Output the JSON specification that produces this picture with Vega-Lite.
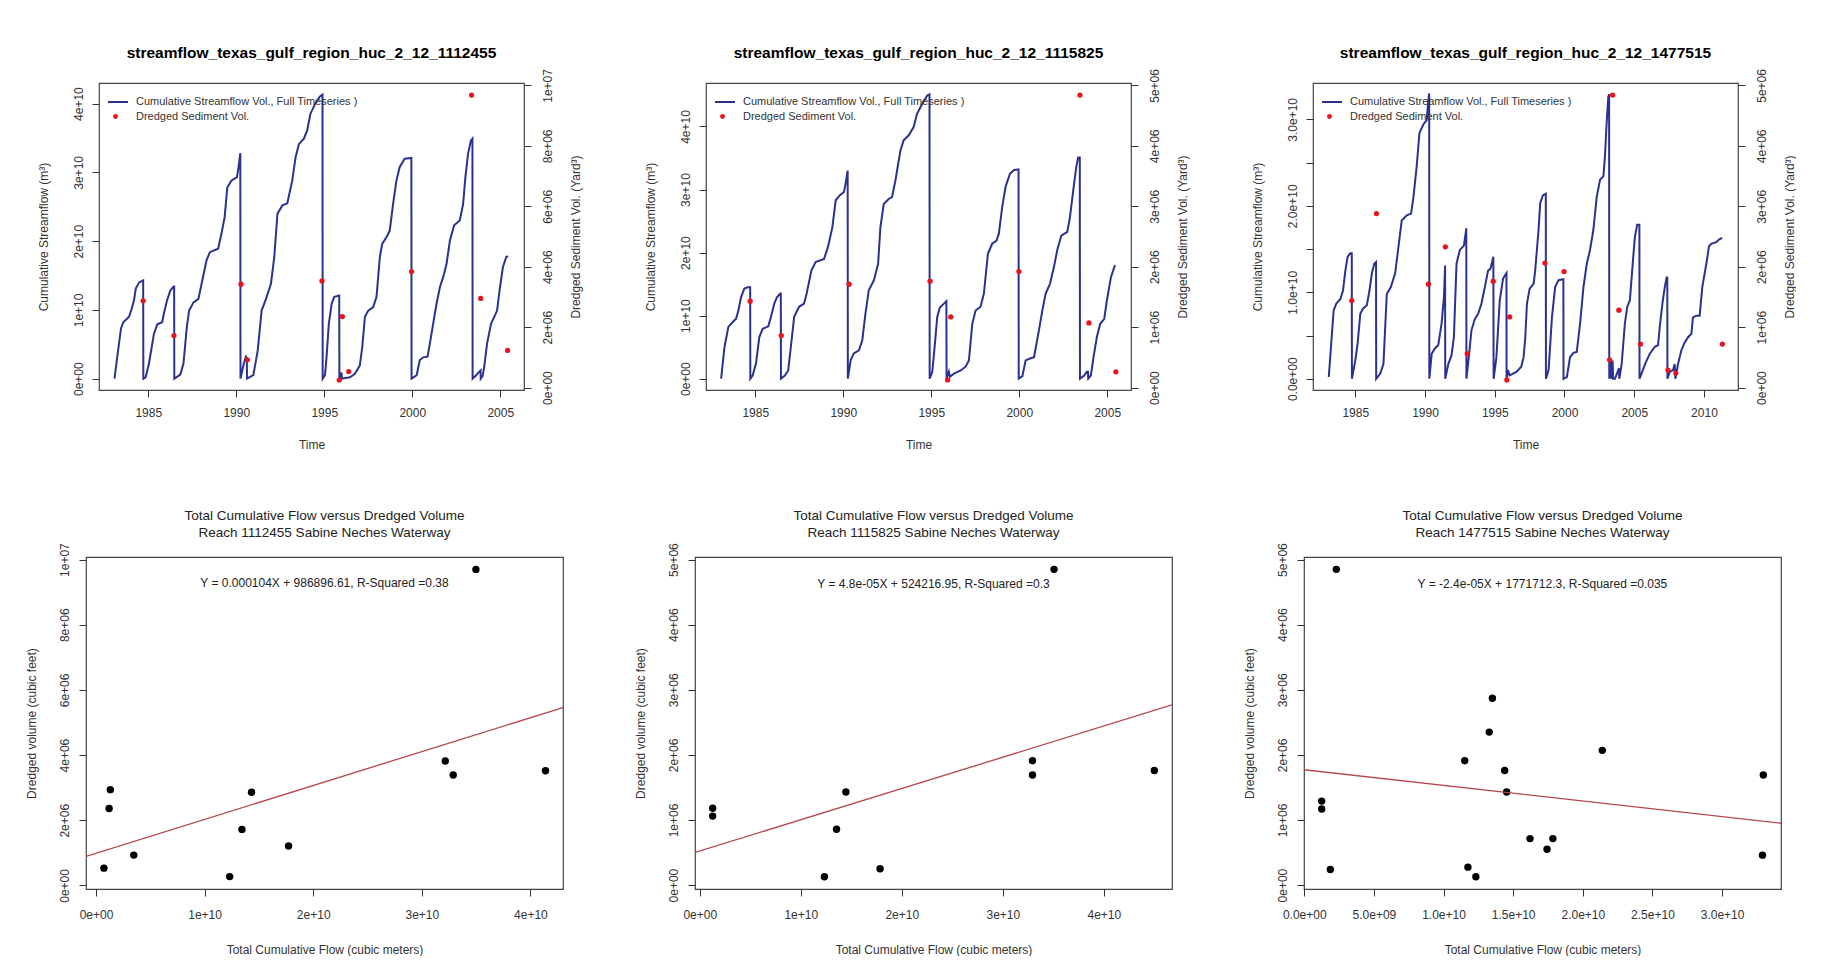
{
"$schema": "https://vega.github.io/schema/vega-lite/v6.json",
"padding": {"left": 24, "top": 45, "right": 0, "bottom": 0},
"background": "#ffffff",
"bounds": "flush",
"spacing": 474,
"resolve": {"scale": {"stroke": "independent", "fill": "independent"}, "legend": {"stroke": "independent", "fill": "independent"}},
"datasets": {
"flow1": [
{"t":1983.08,"v":0},{"t":1983.26,"v":0.36e10},{"t":1983.45,"v":0.73e10},{"t":1983.58,"v":0.82e10},{"t":1983.91,"v":0.90e10},{"t":1984.06,"v":1.02e10},{"t":1984.19,"v":1.14e10},{"t":1984.29,"v":1.31e10},{"t":1984.48,"v":1.40e10},{"t":1984.71,"v":1.43e10},{"t":1984.72,"v":0},
{"t":1984.85,"v":0.02e10},{"t":1985.04,"v":0.22e10},{"t":1985.32,"v":0.65e10},{"t":1985.51,"v":0.79e10},{"t":1985.79,"v":0.82e10},{"t":1985.88,"v":0.94e10},{"t":1986.07,"v":1.14e10},{"t":1986.25,"v":1.28e10},{"t":1986.44,"v":1.34e10},{"t":1986.47,"v":1.34e10},{"t":1986.48,"v":0},
{"t":1986.82,"v":0.06e10},{"t":1987.00,"v":0.22e10},{"t":1987.19,"v":0.75e10},{"t":1987.32,"v":0.99e10},{"t":1987.57,"v":1.11e10},{"t":1987.85,"v":1.16e10},{"t":1988.03,"v":1.38e10},{"t":1988.31,"v":1.72e10},{"t":1988.50,"v":1.84e10},{"t":1988.97,"v":1.89e10},{"t":1989.16,"v":2.11e10},{"t":1989.34,"v":2.35e10},{"t":1989.49,"v":2.78e10},{"t":1989.72,"v":2.88e10},{"t":1990.04,"v":2.93e10},{"t":1990.13,"v":3.08e10},{"t":1990.23,"v":3.28e10},{"t":1990.24,"v":0},
{"t":1990.43,"v":0.22e10},{"t":1990.55,"v":0.32e10},{"t":1990.60,"v":0.30e10},{"t":1990.61,"v":0},
{"t":1990.97,"v":0.05e10},{"t":1991.22,"v":0.41e10},{"t":1991.44,"v":0.99e10},{"t":1991.69,"v":1.16e10},{"t":1991.97,"v":1.38e10},{"t":1992.16,"v":1.77e10},{"t":1992.34,"v":2.40e10},{"t":1992.62,"v":2.52e10},{"t":1992.90,"v":2.55e10},{"t":1993.18,"v":2.88e10},{"t":1993.37,"v":3.22e10},{"t":1993.56,"v":3.41e10},{"t":1993.84,"v":3.49e10},{"t":1994.03,"v":3.61e10},{"t":1994.21,"v":3.85e10},{"t":1994.49,"v":4.00e10},{"t":1994.74,"v":4.10e10},{"t":1994.90,"v":4.13e10},{"t":1994.91,"v":0},
{"t":1995.04,"v":0.05e10},{"t":1995.13,"v":0.31e10},{"t":1995.26,"v":0.80e10},{"t":1995.42,"v":1.09e10},{"t":1995.57,"v":1.19e10},{"t":1995.85,"v":1.21e10},{"t":1995.86,"v":0},
{"t":1995.98,"v":0.09e10},{"t":1996.00,"v":0},{"t":1996.46,"v":0.02e10},{"t":1996.74,"v":0.07e10},{"t":1997.02,"v":0.19e10},{"t":1997.16,"v":0.46e10},{"t":1997.31,"v":0.90e10},{"t":1997.50,"v":0.99e10},{"t":1997.78,"v":1.04e10},{"t":1997.97,"v":1.19e10},{"t":1998.16,"v":1.77e10},{"t":1998.29,"v":1.96e10},{"t":1998.54,"v":2.06e10},{"t":1998.72,"v":2.15e10},{"t":1998.91,"v":2.54e10},{"t":1999.10,"v":2.88e10},{"t":1999.29,"v":3.08e10},{"t":1999.57,"v":3.20e10},{"t":1999.95,"v":3.21e10},{"t":1999.96,"v":0},
{"t":2000.25,"v":0.05e10},{"t":2000.43,"v":0.27e10},{"t":2000.62,"v":0.31e10},{"t":2000.87,"v":0.32e10},{"t":2001.00,"v":0.51e10},{"t":2001.19,"v":0.80e10},{"t":2001.38,"v":1.09e10},{"t":2001.57,"v":1.33e10},{"t":2001.76,"v":1.48e10},{"t":2001.95,"v":1.67e10},{"t":2002.14,"v":2.01e10},{"t":2002.38,"v":2.23e10},{"t":2002.70,"v":2.30e10},{"t":2002.89,"v":2.54e10},{"t":2003.02,"v":2.93e10},{"t":2003.17,"v":3.27e10},{"t":2003.33,"v":3.46e10},{"t":2003.42,"v":3.49e10},{"t":2003.43,"v":0},
{"t":2003.63,"v":0.05e10},{"t":2003.84,"v":0.11e10},{"t":2003.88,"v":0.12e10},{"t":2003.89,"v":0},{"t":2004.00,"v":0.04e10},{"t":2004.10,"v":0.19e10},{"t":2004.25,"v":0.51e10},{"t":2004.48,"v":0.80e10},{"t":2004.70,"v":0.92e10},{"t":2004.82,"v":0.99e10},{"t":2004.96,"v":1.28e10},{"t":2005.15,"v":1.62e10},{"t":2005.34,"v":1.77e10},{"t":2005.45,"v":1.78e10}
],
"flow2": [
{"t":1983.06,"v":0},{"t":1983.25,"v":0.50e10},{"t":1983.47,"v":0.82e10},{"t":1983.72,"v":0.90e10},{"t":1983.91,"v":0.95e10},{"t":1984.04,"v":1.08e10},{"t":1984.19,"v":1.29e10},{"t":1984.38,"v":1.43e10},{"t":1984.57,"v":1.45e10},{"t":1984.71,"v":1.45e10},{"t":1984.72,"v":0},
{"t":1984.85,"v":0.05e10},{"t":1985.04,"v":0.24e10},{"t":1985.23,"v":0.66e10},{"t":1985.42,"v":0.79e10},{"t":1985.74,"v":0.83e10},{"t":1985.89,"v":0.98e10},{"t":1986.08,"v":1.19e10},{"t":1986.23,"v":1.29e10},{"t":1986.42,"v":1.35e10},{"t":1986.45,"v":1.35e10},{"t":1986.46,"v":0},
{"t":1986.68,"v":0.05e10},{"t":1986.87,"v":0.13e10},{"t":1987.02,"v":0.50e10},{"t":1987.21,"v":0.98e10},{"t":1987.49,"v":1.14e10},{"t":1987.77,"v":1.19e10},{"t":1987.92,"v":1.35e10},{"t":1988.19,"v":1.72e10},{"t":1988.43,"v":1.85e10},{"t":1988.91,"v":1.90e10},{"t":1989.13,"v":2.09e10},{"t":1989.38,"v":2.40e10},{"t":1989.57,"v":2.83e10},{"t":1989.81,"v":2.91e10},{"t":1990.04,"v":2.96e10},{"t":1990.13,"v":3.09e10},{"t":1990.25,"v":3.30e10},{"t":1990.26,"v":0},
{"t":1990.42,"v":0.29e10},{"t":1990.60,"v":0.40e10},{"t":1990.89,"v":0.45e10},{"t":1991.08,"v":0.61e10},{"t":1991.26,"v":1.03e10},{"t":1991.45,"v":1.40e10},{"t":1991.74,"v":1.56e10},{"t":1991.98,"v":1.82e10},{"t":1992.11,"v":2.40e10},{"t":1992.30,"v":2.77e10},{"t":1992.58,"v":2.85e10},{"t":1992.77,"v":2.88e10},{"t":1992.96,"v":3.14e10},{"t":1993.25,"v":3.62e10},{"t":1993.43,"v":3.78e10},{"t":1993.72,"v":3.86e10},{"t":1994.00,"v":3.99e10},{"t":1994.19,"v":4.20e10},{"t":1994.45,"v":4.34e10},{"t":1994.77,"v":4.49e10},{"t":1994.90,"v":4.51e10},{"t":1994.91,"v":0},
{"t":1995.06,"v":0.11e10},{"t":1995.19,"v":0.50e10},{"t":1995.34,"v":0.98e10},{"t":1995.49,"v":1.13e10},{"t":1995.72,"v":1.19e10},{"t":1995.86,"v":1.23e10},{"t":1995.87,"v":0},
{"t":1996.00,"v":0.11e10},{"t":1996.06,"v":0.03e10},{"t":1996.29,"v":0.08e10},{"t":1996.67,"v":0.13e10},{"t":1996.95,"v":0.19e10},{"t":1997.14,"v":0.29e10},{"t":1997.33,"v":0.87e10},{"t":1997.52,"v":1.08e10},{"t":1997.80,"v":1.14e10},{"t":1997.99,"v":1.35e10},{"t":1998.22,"v":1.98e10},{"t":1998.46,"v":2.14e10},{"t":1998.71,"v":2.19e10},{"t":1998.84,"v":2.30e10},{"t":1999.03,"v":2.72e10},{"t":1999.22,"v":3.04e10},{"t":1999.47,"v":3.25e10},{"t":1999.70,"v":3.31e10},{"t":1999.96,"v":3.32e10},{"t":1999.97,"v":0},
{"t":2000.18,"v":0.04e10},{"t":2000.36,"v":0.29e10},{"t":2000.61,"v":0.32e10},{"t":2000.84,"v":0.34e10},{"t":2001.12,"v":0.77e10},{"t":2001.31,"v":1.08e10},{"t":2001.50,"v":1.35e10},{"t":2001.74,"v":1.50e10},{"t":2001.97,"v":1.77e10},{"t":2002.16,"v":2.04e10},{"t":2002.39,"v":2.27e10},{"t":2002.73,"v":2.33e10},{"t":2002.88,"v":2.56e10},{"t":2003.07,"v":2.99e10},{"t":2003.24,"v":3.36e10},{"t":2003.35,"v":3.51e10},{"t":2003.44,"v":3.51e10},{"t":2003.45,"v":0},
{"t":2003.69,"v":0.05e10},{"t":2003.84,"v":0.11e10},{"t":2003.91,"v":0.11e10},{"t":2003.92,"v":0},{"t":2004.07,"v":0.05e10},{"t":2004.22,"v":0.34e10},{"t":2004.41,"v":0.66e10},{"t":2004.60,"v":0.87e10},{"t":2004.83,"v":0.95e10},{"t":2004.98,"v":1.24e10},{"t":2005.21,"v":1.61e10},{"t":2005.44,"v":1.80e10}
],
"flow3": [
{"t":1983.10,"v":0.02e10},{"t":1983.26,"v":0.37e10},{"t":1983.45,"v":0.79e10},{"t":1983.64,"v":0.87e10},{"t":1983.93,"v":0.92e10},{"t":1984.12,"v":1.02e10},{"t":1984.29,"v":1.25e10},{"t":1984.45,"v":1.41e10},{"t":1984.64,"v":1.45e10},{"t":1984.75,"v":1.45e10},{"t":1984.76,"v":0},
{"t":1985.00,"v":0.21e10},{"t":1985.17,"v":0.41e10},{"t":1985.36,"v":0.75e10},{"t":1985.55,"v":0.81e10},{"t":1985.83,"v":0.85e10},{"t":1986.02,"v":1.02e10},{"t":1986.19,"v":1.22e10},{"t":1986.36,"v":1.33e10},{"t":1986.49,"v":1.35e10},{"t":1986.50,"v":0},
{"t":1986.79,"v":0.06e10},{"t":1987.02,"v":0.17e10},{"t":1987.26,"v":0.98e10},{"t":1987.55,"v":1.06e10},{"t":1987.86,"v":1.22e10},{"t":1988.10,"v":1.53e10},{"t":1988.33,"v":1.83e10},{"t":1988.69,"v":1.89e10},{"t":1989.00,"v":1.91e10},{"t":1989.17,"v":2.10e10},{"t":1989.40,"v":2.45e10},{"t":1989.60,"v":2.84e10},{"t":1989.88,"v":2.94e10},{"t":1990.12,"v":2.99e10},{"t":1990.24,"v":3.22e10},{"t":1990.30,"v":3.30e10},{"t":1990.31,"v":0},
{"t":1990.48,"v":0.29e10},{"t":1990.71,"v":0.35e10},{"t":1990.95,"v":0.39e10},{"t":1991.19,"v":0.64e10},{"t":1991.36,"v":0.95e10},{"t":1991.44,"v":1.31e10},{"t":1991.45,"v":0},
{"t":1991.67,"v":0.17e10},{"t":1991.90,"v":0.27e10},{"t":1992.07,"v":0.48e10},{"t":1992.26,"v":1.33e10},{"t":1992.50,"v":1.49e10},{"t":1992.79,"v":1.54e10},{"t":1992.96,"v":1.74e10},{"t":1992.97,"v":0},
{"t":1993.14,"v":0.25e10},{"t":1993.33,"v":0.56e10},{"t":1993.57,"v":0.69e10},{"t":1993.81,"v":0.75e10},{"t":1994.05,"v":0.87e10},{"t":1994.29,"v":1.06e10},{"t":1994.52,"v":1.25e10},{"t":1994.69,"v":1.27e10},{"t":1994.90,"v":1.41e10},{"t":1994.92,"v":0},
{"t":1995.12,"v":0.25e10},{"t":1995.36,"v":0.91e10},{"t":1995.60,"v":1.16e10},{"t":1995.84,"v":1.22e10},{"t":1995.85,"v":0},
{"t":1995.95,"v":0.10e10},{"t":1996.07,"v":0.04e10},{"t":1996.55,"v":0.08e10},{"t":1996.90,"v":0.14e10},{"t":1997.07,"v":0.25e10},{"t":1997.19,"v":0.48e10},{"t":1997.31,"v":0.87e10},{"t":1997.50,"v":1.04e10},{"t":1997.79,"v":1.10e10},{"t":1997.90,"v":1.25e10},{"t":1998.14,"v":1.72e10},{"t":1998.26,"v":2.03e10},{"t":1998.45,"v":2.12e10},{"t":1998.66,"v":2.14e10},{"t":1998.67,"v":0},
{"t":1998.86,"v":0.10e10},{"t":1999.10,"v":0.71e10},{"t":1999.33,"v":1.06e10},{"t":1999.57,"v":1.14e10},{"t":1999.92,"v":1.15e10},{"t":1999.93,"v":0},
{"t":2000.17,"v":0.02e10},{"t":2000.40,"v":0.25e10},{"t":2000.64,"v":0.30e10},{"t":2000.88,"v":0.31e10},{"t":2001.12,"v":0.64e10},{"t":2001.36,"v":1.06e10},{"t":2001.60,"v":1.33e10},{"t":2001.83,"v":1.49e10},{"t":2002.07,"v":1.72e10},{"t":2002.31,"v":2.10e10},{"t":2002.55,"v":2.30e10},{"t":2002.79,"v":2.34e10},{"t":2002.90,"v":2.57e10},{"t":2003.02,"v":2.95e10},{"t":2003.14,"v":3.26e10},{"t":2003.20,"v":3.29e10},{"t":2003.21,"v":0},
{"t":2003.31,"v":0.23e10},{"t":2003.35,"v":0},{"t":2003.45,"v":0.21e10},{"t":2003.49,"v":0},{"t":2003.62,"v":0},{"t":2003.74,"v":0.05e10},{"t":2003.90,"v":0.12e10},{"t":2003.93,"v":0},
{"t":2004.10,"v":0.17e10},{"t":2004.33,"v":0.64e10},{"t":2004.50,"v":0.83e10},{"t":2004.69,"v":0.91e10},{"t":2004.93,"v":1.41e10},{"t":2005.05,"v":1.64e10},{"t":2005.21,"v":1.78e10},{"t":2005.37,"v":1.78e10},{"t":2005.38,"v":0},
{"t":2005.52,"v":0.06e10},{"t":2005.83,"v":0.19e10},{"t":2006.12,"v":0.29e10},{"t":2006.48,"v":0.37e10},{"t":2006.71,"v":0.39e10},{"t":2006.83,"v":0.60e10},{"t":2007.02,"v":0.87e10},{"t":2007.19,"v":1.06e10},{"t":2007.31,"v":1.16e10},{"t":2007.37,"v":1.18e10},{"t":2007.38,"v":0},
{"t":2007.55,"v":0.08e10},{"t":2007.79,"v":0.10e10},{"t":2007.90,"v":0.17e10},{"t":2007.95,"v":0},{"t":2008.14,"v":0.17e10},{"t":2008.38,"v":0.33e10},{"t":2008.62,"v":0.42e10},{"t":2008.86,"v":0.48e10},{"t":2009.10,"v":0.52e10},{"t":2009.21,"v":0.71e10},{"t":2009.45,"v":0.73e10},{"t":2009.69,"v":0.73e10},{"t":2009.88,"v":1.06e10},{"t":2010.17,"v":1.33e10},{"t":2010.36,"v":1.53e10},{"t":2010.52,"v":1.56e10},{"t":2010.88,"v":1.58e10},{"t":2011.07,"v":1.61e10},{"t":2011.31,"v":1.63e10}
],
"dredge1": [
{"t":1984.71,"d":2.87e6},{"t":1986.46,"d":1.72e6},{"t":1990.27,"d":3.42e6},{"t":1990.63,"d":0.92e6},{"t":1994.87,"d":3.53e6},{"t":1995.85,"d":0.25e6},{"t":1996.03,"d":2.35e6},{"t":1996.39,"d":0.53e6},{"t":1999.96,"d":3.84e6},{"t":2003.37,"d":9.68e6},{"t":2003.89,"d":2.95e6},{"t":2005.42,"d":1.23e6}
],
"dredge2": [
{"t":1984.71,"d":1.43e6},{"t":1986.48,"d":0.86e6},{"t":1990.33,"d":1.71e6},{"t":1994.93,"d":1.76e6},{"t":1995.93,"d":0.127e6},{"t":1996.11,"d":1.17e6},{"t":1999.98,"d":1.92e6},{"t":2003.45,"d":4.84e6},{"t":2003.96,"d":1.07e6},{"t":2005.49,"d":0.26e6}
],
"dredge3": [
{"t":1984.75,"d":1.44e6},{"t":1986.52,"d":2.88e6},{"t":1990.25,"d":1.71e6},{"t":1991.46,"d":2.33e6},{"t":1993.03,"d":0.56e6},{"t":1994.89,"d":1.76e6},{"t":1995.87,"d":0.127e6},{"t":1996.07,"d":1.17e6},{"t":1998.60,"d":2.06e6},{"t":1999.97,"d":1.92e6},{"t":2003.23,"d":0.46e6},{"t":2003.45,"d":4.84e6},{"t":2003.90,"d":1.28e6},{"t":2005.45,"d":0.72e6},{"t":2007.42,"d":0.29e6},{"t":2007.98,"d":0.24e6},{"t":2011.32,"d":0.72e6}
],
"sc1": [
{"x":0.073e10,"y":0.53e6},{"x":0.121e10,"y":2.36e6},{"x":0.132e10,"y":2.94e6},{"x":0.348e10,"y":0.93e6},{"x":1.231e10,"y":0.27e6},{"x":1.344e10,"y":1.72e6},{"x":1.432e10,"y":2.86e6},{"x":1.773e10,"y":1.21e6},{"x":3.216e10,"y":3.82e6},{"x":3.289e10,"y":3.39e6},{"x":3.498e10,"y":9.70e6},{"x":4.139e10,"y":3.52e6}
],
"sc2": [
{"x":0.128e10,"y":1.18e6},{"x":0.128e10,"y":1.06e6},{"x":1.234e10,"y":0.128e6},{"x":1.354e10,"y":0.857e6},{"x":1.447e10,"y":1.43e6},{"x":1.785e10,"y":0.25e6},{"x":3.294e10,"y":1.91e6},{"x":3.294e10,"y":1.69e6},{"x":3.507e10,"y":4.85e6},{"x":4.50e10,"y":1.76e6}
],
"sc3": [
{"x":0.125e10,"y":1.29e6},{"x":0.125e10,"y":1.17e6},{"x":0.187e10,"y":0.24e6},{"x":0.230e10,"y":4.85e6},{"x":1.152e10,"y":1.91e6},{"x":1.175e10,"y":0.276e6},{"x":1.232e10,"y":0.128e6},{"x":1.328e10,"y":2.35e6},{"x":1.351e10,"y":2.87e6},{"x":1.439e10,"y":1.76e6},{"x":1.453e10,"y":1.43e6},{"x":1.621e10,"y":0.714e6},{"x":1.743e10,"y":0.55e6},{"x":1.785e10,"y":0.714e6},{"x":2.140e10,"y":2.07e6},{"x":3.296e10,"y":1.69e6},{"x":3.290e10,"y":0.46e6}
],
"reg1": [{"x":-0.092e10,"y":891217},{"x":4.30e10,"y":5458897}],
"reg2": [{"x":-0.047e10,"y":501657},{"x":4.675e10,"y":2768217}],
"reg3": [{"x":-0.002e10,"y":1772192},{"x":3.423e10,"y":950192}],
"eq1": [{"x":2.104e10,"y":9.29e6,"label":"Y = 0.000104X + 986896.61, R-Squared =0.38"}],
"eq2": [{"x":2.314e10,"y":4.63e6,"label":"Y = 4.8e-05X + 524216.95, R-Squared =0.3"}],
"eq3": [{"x":1.71e10,"y":4.63e6,"label":"Y = -2.4e-05X + 1771712.3, R-Squared =0.035"}]
},
"vconcat": [
{
"bounds": "flush",
"spacing": 13,
"resolve": {"scale": {"stroke": "independent", "fill": "independent"}, "legend": {"stroke": "independent", "fill": "independent"}},
"hconcat": [
{"hconcat": [{"width": 1, "height": 1, "data": {"values": []}, "mark": {"type": "point", "opacity": 0}, "encoding": {}, "view": {"stroke": null}}]},
{
"bounds": "flush",
"spacing": 182,
"resolve": {"scale": {"stroke": "independent", "fill": "independent"}, "legend": {"stroke": "independent", "fill": "independent"}},
"hconcat": [
{
"width": 425, "height": 307,
"title": {"text": "streamflow_texas_gulf_region_huc_2_12_1112455", "fontSize": 15.5, "fontWeight": "bold", "color": "#000000", "offset": -8, "baseline": "bottom", "anchor": "middle", "frame": "group"},
"encoding": {"x": {"field": "t", "type": "quantitative", "scale": {"domain": [1982.2, 2006.35], "nice": false, "zero": false}, "axis": {"values": [1985, 1990, 1995, 2000, 2005], "format": "d", "title": "Time", "labelPadding": 10, "titleX": 212.5, "titleY": 54, "titleBaseline": "middle", "titleAlign": "center", "titleAngle": 0, "labelAngle": 0}}},
"layer": [
{"data": {"name": "flow1"}, "mark": {"type": "line", "strokeWidth": 2, "clip": true},
"encoding": {
"y": {"field": "v", "type": "quantitative", "scale": {"domain": [-1.65e9, 4.3e10], "nice": false, "zero": false}, "axis": {"orient": "left", "values": [0, 1e10, 2e10, 3e10, 4e10], "labelExpr": "datum.value === 0 ? '0e+00' : format(datum.value / 1e10, 'd') + 'e+10'", "labelAngle": 270, "labelAlign": "center", "labelBaseline": "middle", "labelPadding": 14, "title": "Cumulative Streamflow (m³)", "titleAngle": 270, "titleBaseline": "middle", "titleAlign": "center", "titleX": -56, "titleY": 153.5}},
"stroke": {"datum": "Cumulative Streamflow Vol., Full Timeseries )", "type": "nominal", "scale": {"range": ["#2b3190"]}, "legend": {"orient": "none", "legendX": 8, "legendY": 8, "title": null, "symbolType": "stroke", "symbolSize": 400, "symbolStrokeWidth": 2, "labelOffset": 7, "padding": 0, "labelFontSize": 11, "labelLimit": 400, "labelColor": "#333333"}}
}},
{"data": {"name": "dredge1"}, "mark": {"type": "point", "filled": true, "size": 28, "opacity": 1},
"encoding": {
"y": {"field": "d", "type": "quantitative", "scale": {"domain": [-8e4, 1.008e7], "nice": false, "zero": false}, "axis": {"orient": "right", "values": [0, 2e6, 4e6, 6e6, 8e6, 1e7], "labelExpr": "datum.value === 0 ? '0e+00' : datum.value >= 1e7 ? '1e+07' : format(datum.value / 1e6, 'd') + 'e+06'", "labelAngle": 270, "labelAlign": "center", "labelBaseline": "middle", "labelPadding": 16, "title": "Dredged Sediment Vol. (Yard³)", "titleAngle": 270, "titleBaseline": "middle", "titleAlign": "center", "titleX": 51, "titleY": 153.5}},
"fill": {"datum": "Dredged Sediment Vol.", "type": "nominal", "scale": {"range": ["#e8141c"]}, "legend": {"orient": "none", "legendX": 11, "legendY": 28, "title": null, "symbolType": "circle", "symbolSize": 24, "labelOffset": 15, "padding": 0, "labelFontSize": 11, "labelLimit": 400, "labelColor": "#333333"}}
}}
],
"resolve": {"scale": {"y": "independent"}, "axis": {"y": "independent"}}
},
{
"width": 425, "height": 307,
"title": {"text": "streamflow_texas_gulf_region_huc_2_12_1115825", "fontSize": 15.5, "fontWeight": "bold", "color": "#000000", "offset": -8, "baseline": "bottom", "anchor": "middle", "frame": "group"},
"encoding": {"x": {"field": "t", "type": "quantitative", "scale": {"domain": [1982.2, 2006.35], "nice": false, "zero": false}, "axis": {"values": [1985, 1990, 1995, 2000, 2005], "format": "d", "title": "Time", "labelPadding": 10, "titleX": 212.5, "titleY": 54, "titleBaseline": "middle", "titleAlign": "center", "titleAngle": 0, "labelAngle": 0}}},
"layer": [
{"data": {"name": "flow2"}, "mark": {"type": "line", "strokeWidth": 2, "clip": true},
"encoding": {
"y": {"field": "v", "type": "quantitative", "scale": {"domain": [-1.8e9, 4.69e10], "nice": false, "zero": false}, "axis": {"orient": "left", "values": [0, 1e10, 2e10, 3e10, 4e10], "labelExpr": "datum.value === 0 ? '0e+00' : format(datum.value / 1e10, 'd') + 'e+10'", "labelAngle": 270, "labelAlign": "center", "labelBaseline": "middle", "labelPadding": 14, "title": "Cumulative Streamflow (m³)", "titleAngle": 270, "titleBaseline": "middle", "titleAlign": "center", "titleX": -56, "titleY": 153.5}},
"stroke": {"datum": "Cumulative Streamflow Vol., Full Timeseries )", "type": "nominal", "scale": {"range": ["#2b3190"]}, "legend": {"orient": "none", "legendX": 8, "legendY": 8, "title": null, "symbolType": "stroke", "symbolSize": 400, "symbolStrokeWidth": 2, "labelOffset": 7, "padding": 0, "labelFontSize": 11, "labelLimit": 400, "labelColor": "#333333"}}
}},
{"data": {"name": "dredge2"}, "mark": {"type": "point", "filled": true, "size": 28, "opacity": 1},
"encoding": {
"y": {"field": "d", "type": "quantitative", "scale": {"domain": [-4e4, 5.04e6], "nice": false, "zero": false}, "axis": {"orient": "right", "values": [0, 1e6, 2e6, 3e6, 4e6, 5e6], "labelExpr": "datum.value === 0 ? '0e+00' : format(datum.value / 1e6, 'd') + 'e+06'", "labelAngle": 270, "labelAlign": "center", "labelBaseline": "middle", "labelPadding": 16, "title": "Dredged Sediment Vol. (Yard³)", "titleAngle": 270, "titleBaseline": "middle", "titleAlign": "center", "titleX": 51, "titleY": 153.5}},
"fill": {"datum": "Dredged Sediment Vol.", "type": "nominal", "scale": {"range": ["#e8141c"]}, "legend": {"orient": "none", "legendX": 11, "legendY": 28, "title": null, "symbolType": "circle", "symbolSize": 24, "labelOffset": 15, "padding": 0, "labelFontSize": 11, "labelLimit": 400, "labelColor": "#333333"}}
}}
],
"resolve": {"scale": {"y": "independent"}, "axis": {"y": "independent"}}
},
{
"width": 425, "height": 307,
"title": {"text": "streamflow_texas_gulf_region_huc_2_12_1477515", "fontSize": 15.5, "fontWeight": "bold", "color": "#000000", "offset": -8, "baseline": "bottom", "anchor": "middle", "frame": "group"},
"encoding": {"x": {"field": "t", "type": "quantitative", "scale": {"domain": [1981.97, 2012.44], "nice": false, "zero": false}, "axis": {"values": [1985, 1990, 1995, 2000, 2005, 2010], "format": "d", "title": "Time", "labelPadding": 10, "titleX": 212.5, "titleY": 54, "titleBaseline": "middle", "titleAlign": "center", "titleAngle": 0, "labelAngle": 0}}},
"layer": [
{"data": {"name": "flow3"}, "mark": {"type": "line", "strokeWidth": 2, "clip": true},
"encoding": {
"y": {"field": "v", "type": "quantitative", "scale": {"domain": [-1.3e9, 3.42e10], "nice": false, "zero": false}, "axis": {"orient": "left", "values": [0, 5e9, 1e10, 1.5e10, 2e10, 2.5e10, 3e10], "labelExpr": "datum.value === 0 ? '0.0e+00' : (datum.value % 1e10 === 0 ? format(datum.value / 1e10, '.1f') + 'e+10' : '')", "labelAngle": 270, "labelAlign": "center", "labelBaseline": "middle", "labelPadding": 14, "title": "Cumulative Streamflow (m³)", "titleAngle": 270, "titleBaseline": "middle", "titleAlign": "center", "titleX": -56, "titleY": 153.5}},
"stroke": {"datum": "Cumulative Streamflow Vol., Full Timeseries )", "type": "nominal", "scale": {"range": ["#2b3190"]}, "legend": {"orient": "none", "legendX": 8, "legendY": 8, "title": null, "symbolType": "stroke", "symbolSize": 400, "symbolStrokeWidth": 2, "labelOffset": 7, "padding": 0, "labelFontSize": 11, "labelLimit": 400, "labelColor": "#333333"}}
}},
{"data": {"name": "dredge3"}, "mark": {"type": "point", "filled": true, "size": 28, "opacity": 1},
"encoding": {
"y": {"field": "d", "type": "quantitative", "scale": {"domain": [-4e4, 5.04e6], "nice": false, "zero": false}, "axis": {"orient": "right", "values": [0, 1e6, 2e6, 3e6, 4e6, 5e6], "labelExpr": "datum.value === 0 ? '0e+00' : format(datum.value / 1e6, 'd') + 'e+06'", "labelAngle": 270, "labelAlign": "center", "labelBaseline": "middle", "labelPadding": 16, "title": "Dredged Sediment Vol. (Yard³)", "titleAngle": 270, "titleBaseline": "middle", "titleAlign": "center", "titleX": 51, "titleY": 153.5}},
"fill": {"datum": "Dredged Sediment Vol.", "type": "nominal", "scale": {"range": ["#e8141c"]}, "legend": {"orient": "none", "legendX": 11, "legendY": 28, "title": null, "symbolType": "circle", "symbolSize": 24, "labelOffset": 15, "padding": 0, "labelFontSize": 11, "labelLimit": 400, "labelColor": "#333333"}}
}}
],
"resolve": {"scale": {"y": "independent"}, "axis": {"y": "independent"}}
}
]
}
]
},
{
"bounds": "flush",
"spacing": 132,
"hconcat": [
{
"width": 477, "height": 332,
"title": {"text": ["Total Cumulative Flow versus Dredged Volume", "Reach 1112455 Sabine Neches Waterway"], "fontSize": 13.5, "fontWeight": "normal", "color": "#222222", "lineHeight": 17, "offset": -11, "baseline": "bottom", "anchor": "middle", "frame": "group"},
"encoding": {
"x": {"field": "x", "type": "quantitative", "scale": {"domain": [-0.092e10, 4.30e10], "nice": false, "zero": false}, "axis": {"values": [0, 1e10, 2e10, 3e10, 4e10], "labelExpr": "datum.value === 0 ? '0e+00' : format(datum.value / 1e10, 'd') + 'e+10'", "title": "Total Cumulative Flow (cubic meters)", "labelPadding": 13, "labelAngle": 0, "titleX": 238.5, "titleY": 60, "titleBaseline": "middle", "titleAlign": "center", "titleAngle": 0}},
"y": {"field": "y", "type": "quantitative", "scale": {"domain": [-0.11e6, 10.08e6], "nice": false, "zero": false}, "axis": {"values": [0, 2e6, 4e6, 6e6, 8e6, 1e7], "labelExpr": "datum.value === 0 ? '0e+00' : datum.value >= 1e7 ? '1e+07' : format(datum.value / 1e6, 'd') + 'e+06'", "labelAngle": 270, "labelAlign": "center", "labelBaseline": "middle", "labelPadding": 15, "title": "Dredged volume (cubic feet)", "titleAngle": 270, "titleBaseline": "middle", "titleAlign": "center", "titleX": -55, "titleY": 166}}
},
"layer": [
{"data": {"name": "sc1"}, "mark": {"type": "point", "filled": true, "size": 55, "color": "#000000", "opacity": 1}},
{"data": {"name": "reg1"}, "mark": {"type": "line", "color": "#b5474b", "strokeWidth": 1.3, "clip": true}},
{"data": {"name": "eq1"}, "mark": {"type": "text", "fontSize": 12, "color": "#222222", "align": "center", "baseline": "middle"}, "encoding": {"text": {"field": "label", "type": "nominal"}}}
]
},
{
"width": 477, "height": 332,
"title": {"text": ["Total Cumulative Flow versus Dredged Volume", "Reach 1115825 Sabine Neches Waterway"], "fontSize": 13.5, "fontWeight": "normal", "color": "#222222", "lineHeight": 17, "offset": -11, "baseline": "bottom", "anchor": "middle", "frame": "group"},
"encoding": {
"x": {"field": "x", "type": "quantitative", "scale": {"domain": [-0.047e10, 4.675e10], "nice": false, "zero": false}, "axis": {"values": [0, 1e10, 2e10, 3e10, 4e10], "labelExpr": "datum.value === 0 ? '0e+00' : format(datum.value / 1e10, 'd') + 'e+10'", "title": "Total Cumulative Flow (cubic meters)", "labelPadding": 13, "labelAngle": 0, "titleX": 238.5, "titleY": 60, "titleBaseline": "middle", "titleAlign": "center", "titleAngle": 0}},
"y": {"field": "y", "type": "quantitative", "scale": {"domain": [-0.06e6, 5.04e6], "nice": false, "zero": false}, "axis": {"values": [0, 1e6, 2e6, 3e6, 4e6, 5e6], "labelExpr": "datum.value === 0 ? '0e+00' : format(datum.value / 1e6, 'd') + 'e+06'", "labelAngle": 270, "labelAlign": "center", "labelBaseline": "middle", "labelPadding": 15, "title": "Dredged volume (cubic feet)", "titleAngle": 270, "titleBaseline": "middle", "titleAlign": "center", "titleX": -55, "titleY": 166}}
},
"layer": [
{"data": {"name": "sc2"}, "mark": {"type": "point", "filled": true, "size": 55, "color": "#000000", "opacity": 1}},
{"data": {"name": "reg2"}, "mark": {"type": "line", "color": "#b5474b", "strokeWidth": 1.3, "clip": true}},
{"data": {"name": "eq2"}, "mark": {"type": "text", "fontSize": 12, "color": "#222222", "align": "center", "baseline": "middle"}, "encoding": {"text": {"field": "label", "type": "nominal"}}}
]
},
{
"width": 477, "height": 332,
"title": {"text": ["Total Cumulative Flow versus Dredged Volume", "Reach 1477515 Sabine Neches Waterway"], "fontSize": 13.5, "fontWeight": "normal", "color": "#222222", "lineHeight": 17, "offset": -11, "baseline": "bottom", "anchor": "middle", "frame": "group"},
"encoding": {
"x": {"field": "x", "type": "quantitative", "scale": {"domain": [-0.002e10, 3.423e10], "nice": false, "zero": false}, "axis": {"values": [0, 5e9, 1e10, 1.5e10, 2e10, 2.5e10, 3e10], "labelExpr": "datum.value === 0 ? '0.0e+00' : datum.value < 1e10 ? format(datum.value / 1e9, '.1f') + 'e+09' : format(datum.value / 1e10, '.1f') + 'e+10'", "title": "Total Cumulative Flow (cubic meters)", "labelPadding": 13, "labelAngle": 0, "titleX": 238.5, "titleY": 60, "titleBaseline": "middle", "titleAlign": "center", "titleAngle": 0}},
"y": {"field": "y", "type": "quantitative", "scale": {"domain": [-0.06e6, 5.04e6], "nice": false, "zero": false}, "axis": {"values": [0, 1e6, 2e6, 3e6, 4e6, 5e6], "labelExpr": "datum.value === 0 ? '0e+00' : format(datum.value / 1e6, 'd') + 'e+06'", "labelAngle": 270, "labelAlign": "center", "labelBaseline": "middle", "labelPadding": 15, "title": "Dredged volume (cubic feet)", "titleAngle": 270, "titleBaseline": "middle", "titleAlign": "center", "titleX": -55, "titleY": 166}}
},
"layer": [
{"data": {"name": "sc3"}, "mark": {"type": "point", "filled": true, "size": 55, "color": "#000000", "opacity": 1}},
{"data": {"name": "reg3"}, "mark": {"type": "line", "color": "#b5474b", "strokeWidth": 1.3, "clip": true}},
{"data": {"name": "eq3"}, "mark": {"type": "text", "fontSize": 12, "color": "#222222", "align": "center", "baseline": "middle"}, "encoding": {"text": {"field": "label", "type": "nominal"}}}
]
}
]
}
],
"config": {
"font": "Liberation Sans",
"view": {"stroke": "#444444", "strokeWidth": 1.2},
"axis": {"domain": false, "grid": false, "ticks": true, "tickColor": "#333333", "tickSize": 7, "tickWidth": 1, "labelFont": "Liberation Sans", "labelFontSize": 12, "labelColor": "#333333", "titleFont": "Liberation Sans", "titleFontSize": 12, "titleFontWeight": "normal", "titleColor": "#333333", "labelFlush": false, "labelOverlap": false},
"legend": {"labelFont": "Liberation Sans"},
"title": {"font": "Liberation Sans"}
}
}
